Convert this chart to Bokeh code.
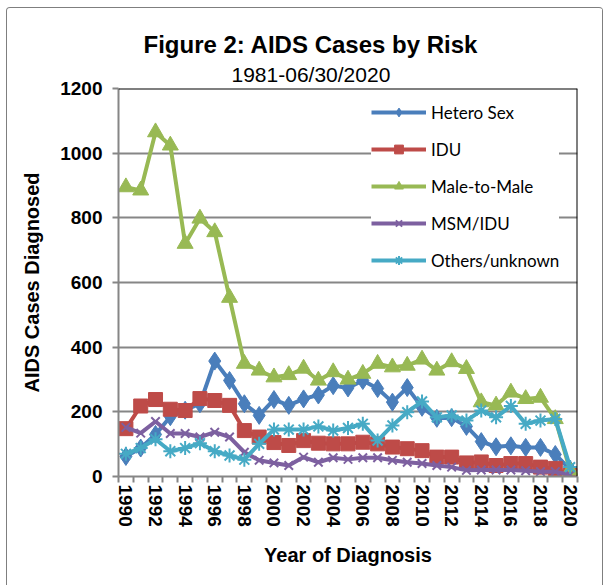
from bokeh.plotting import figure
from bokeh.models import Title, FixedTicker, Legend, LegendItem, Range1d, Span
from bokeh.embed import file_html
from bokeh.resources import INLINE

years = list(range(1990, 2021))
hetero_sex = [62, 88, 130, 185, 205, 225, 357, 297, 225, 189, 238, 220, 240, 252, 281, 274,
              297, 272, 230, 275, 214, 180, 182, 155, 108, 92, 95, 90, 90, 68, 22]
idu = [148, 218, 238, 208, 204, 241, 235, 220, 142, 122, 105, 96, 111, 103, 101, 101,
       106, 101, 91, 86, 80, 60, 60, 42, 45, 34, 40, 40, 29, 25, 3]
male_to_male = [895, 885, 1065, 1024, 720, 798, 756, 553, 349, 328, 307, 314, 334, 297, 323, 300,
                318, 349, 338, 343, 362, 328, 354, 333, 230, 220, 260, 240, 244, 178, 19]
msm_idu = [152, 134, 170, 133, 133, 122, 137, 122, 75, 50, 42, 34, 60, 44, 58, 53,
           58, 58, 50, 44, 40, 34, 29, 19, 20, 20, 20, 18, 15, 15, 5]
others_unknown = [70, 88, 115, 78, 88, 103, 78, 65, 52, 101, 145, 145, 145, 155, 142, 150,
                  163, 111, 158, 199, 232, 183, 189, 173, 204, 183, 218, 163, 173, 178, 29]

series_names = ["Hetero Sex", "IDU", "Male-to-Male", "MSM/IDU", "Others/unknown"]
y_ticks = [0, 200, 400, 600, 800, 1000, 1200]
x_label_years = list(range(1990, 2021, 2))

FONT = "Liberation Sans"
GRAY = "#868686"

p = figure(width=597, height=578, output_backend="svg", toolbar_location=None,
           x_range=Range1d(1989.5, 2020.5), y_range=Range1d(0, 1200),
           min_border_left=111, min_border_right=27, min_border_top=80, min_border_bottom=110)
p.styles = {"margin-left": "6px", "margin-top": "7px",
            "border-top": "1px solid #7f7f7f", "border-left": "1px solid #7f7f7f",
            "border-right": "1px solid #7f7f7f", "border-top-left-radius": "4px",
            "border-top-right-radius": "4px"}
p.outline_line_color = None
p.background_fill_color = "white"
p.border_fill_color = "white"

p.add_layout(Title(text="1981-06/30/2020", align="left", text_font=FONT, text_color="black",
                   text_font_size="21px", text_font_style="normal", standoff=6, offset=113), "above")
p.add_layout(Title(text="Figure 2: AIDS Cases by Risk", align="left", text_font=FONT,
                   text_color="black", text_font_size="24px", text_font_style="bold",
                   standoff=0, offset=25), "above")

# axes
p.yaxis.ticker = FixedTicker(ticks=y_ticks)
p.yaxis.axis_label = "AIDS Cases Diagnosed"
p.xaxis.axis_label = "Year of Diagnosis"
p.xaxis.ticker = FixedTicker(ticks=x_label_years, minor_ticks=[y - 0.5 for y in years] + [2020.5])
for ax in (p.xaxis[0], p.yaxis[0]):
    ax.axis_line_color = GRAY
    ax.axis_line_width = 2
    ax.major_label_text_font = FONT
    ax.major_label_text_font_style = "bold"
    ax.major_label_text_font_size = "19px"
    ax.major_label_text_color = "black"
    ax.axis_label_text_font = FONT
    ax.axis_label_text_font_style = "bold"
    ax.axis_label_text_font_size = "20px"
    ax.axis_label_text_color = "black"
p.yaxis.major_tick_line_color = GRAY
p.yaxis.major_tick_line_width = 2
p.yaxis.major_tick_out = 6
p.yaxis.major_tick_in = 0
p.yaxis.minor_tick_line_color = None
p.yaxis.major_label_standoff = 10
p.yaxis.axis_label_standoff = 14
p.xaxis.major_tick_line_color = None
p.xaxis.major_tick_out = 6
p.xaxis.major_tick_in = 0
p.xaxis.minor_tick_line_color = GRAY
p.xaxis.minor_tick_line_width = 2
p.xaxis.minor_tick_out = 6
p.xaxis.minor_tick_in = 0
p.xaxis.major_label_orientation = "vertical"
p.xaxis.major_label_standoff = 2
p.xaxis.axis_label_standoff = 14

p.xgrid.grid_line_color = None
p.ygrid.grid_line_color = GRAY
p.ygrid.grid_line_width = 2

p.add_layout(Span(location=1200, dimension="width", line_color="black", line_width=2))
p.add_layout(Span(location=2020.5, dimension="height", line_color="black", line_width=2))

colors = ["#4A7EBB", "#BE4B48", "#98B954", "#7D60A0", "#46AAC5"]
data = [hetero_sex, idu, male_to_male, msm_idu, others_unknown]
items = []
for i, (name, vals, c) in enumerate(zip(series_names, data, colors)):
    ln = p.line(years, vals, line_color=c, line_width=4)
    if i == 0:
        mk = p.scatter(years, vals, marker="diamond", size=18, fill_color=c, line_color=c)
    elif i == 1:
        mk = p.scatter(years, vals, marker="square", size=14, fill_color=c, line_color=c)
    elif i == 2:
        mk = p.scatter(years, vals, marker="triangle", size=16, fill_color=c, line_color=c)
    elif i == 3:
        mk = p.scatter(years, vals, marker="x", size=12, line_color=c, line_width=2)
    else:
        mk = p.scatter(years, vals, marker="asterisk", size=14, line_color=c, line_width=2)
    items.append(LegendItem(label=name, renderers=[ln, mk]))

legend = Legend(items=items, location=(253, 205), padding=5, margin=0,
                glyph_width=55, glyph_height=22, label_height=22, spacing=15,
                label_standoff=5, label_text_font="Lato", label_text_font_size="17px",
                label_text_color="black", border_line_color=None,
                background_fill_color="white", background_fill_alpha=1.0)
p.add_layout(legend, "center")

open("out.html", "w").write(file_html(p, INLINE))
